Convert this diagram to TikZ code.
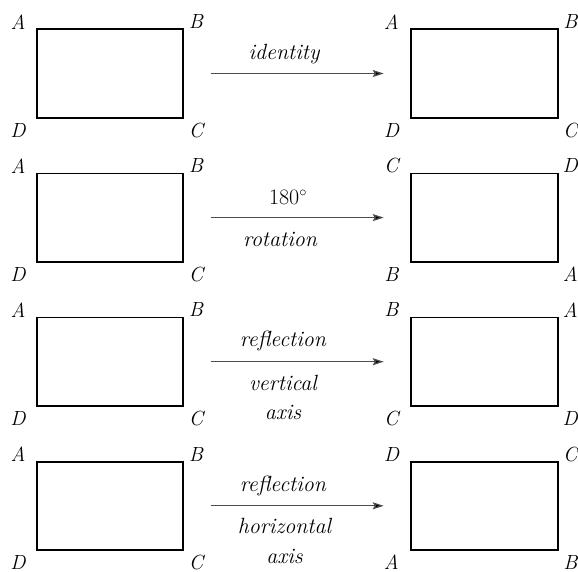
\documentclass[tikz,border=0pt]{standalone}
\usetikzlibrary{arrows.meta}
\begin{document}
\begin{tikzpicture}[x=1pt,y=-1pt,
  box/.style={draw=black,line width=1.8pt,minimum width=146.6pt,minimum height=88.4pt,inner sep=0pt,outer sep=0pt},
  corner/.style={font=\fontsize{20.5}{24}\selectfont\itshape,inner sep=0pt},
  lbl/.style={font=\fontsize{22}{26}\selectfont\itshape,inner sep=0pt,anchor=base},
  num/.style={font=\fontsize{22}{26}\selectfont,inner sep=0pt,anchor=base},
  arr/.style={draw=black!70,line width=1.2pt,-{Stealth[length=11pt,width=7pt,inset=2pt,fill=black]}}]
\useasboundingbox (0,0) rectangle (578,571);
% rows
\foreach \r/\la/\lb/\lc/\ld/\ra/\rb/\rc/\rd in {0/A/B/C/D/A/B/C/D,1/A/B/C/D/C/D/A/B,2/A/B/C/D/B/A/D/C,3/A/B/C/D/D/C/B/A}{
  \pgfmathsetmacro{\yc}{73.5+144.1*\r}
  \node[box] (L\r) at (110,\yc) {};
  \node[box] (R\r) at (484.3,\yc) {};
  \node[corner] (LA\r) at ([xshift=-18.7pt,yshift=7.6pt]L\r.north west) {\la};
  \node[corner] (LB\r) at ([xshift=12.7pt,yshift=7.6pt]L\r.north east) {\lb};
  \node[corner] (LC\r) at ([xshift=12.7pt,yshift=-12.3pt]L\r.south east) {\lc};
  \node[corner] (LD\r) at ([xshift=-18.7pt,yshift=-12.3pt]L\r.south west) {\ld};
  \node[corner] (RA\r) at ([xshift=-19.6pt,yshift=7.6pt]R\r.north west) {\ra};
  \node[corner] (RB\r) at ([xshift=12.7pt,yshift=7.6pt]R\r.north east) {\rb};
  \node[corner] (RC\r) at ([xshift=12.7pt,yshift=-12.3pt]R\r.south east) {\rc};
  \node[corner] (RD\r) at ([xshift=-19.6pt,yshift=-12.3pt]R\r.south west) {\rd};
  \draw[arr] ([xshift=27.7pt]L\r.east) -- ([xshift=-27.3pt]R\r.west);
}
% labels
\node[lbl] (t1) at (284,59.3) {identity};
\node[num] (t2) at (288,204.3) {180$^\circ$};
\node[lbl] (t3) at (280,246.7) {rotation};
\node[lbl] (t4) at (283,346.7) {reflection};
\node[lbl] (t5) at (283,390) {vertical};
\node[lbl] (t6) at (283,419.5) {axis};
\node[lbl] (t7) at (283,491.7) {reflection};
\node[lbl] (t8) at (284.5,533.3) {horizontal};
\node[lbl] (t9) at (284.5,563) {axis};
\end{tikzpicture}
\end{document}
